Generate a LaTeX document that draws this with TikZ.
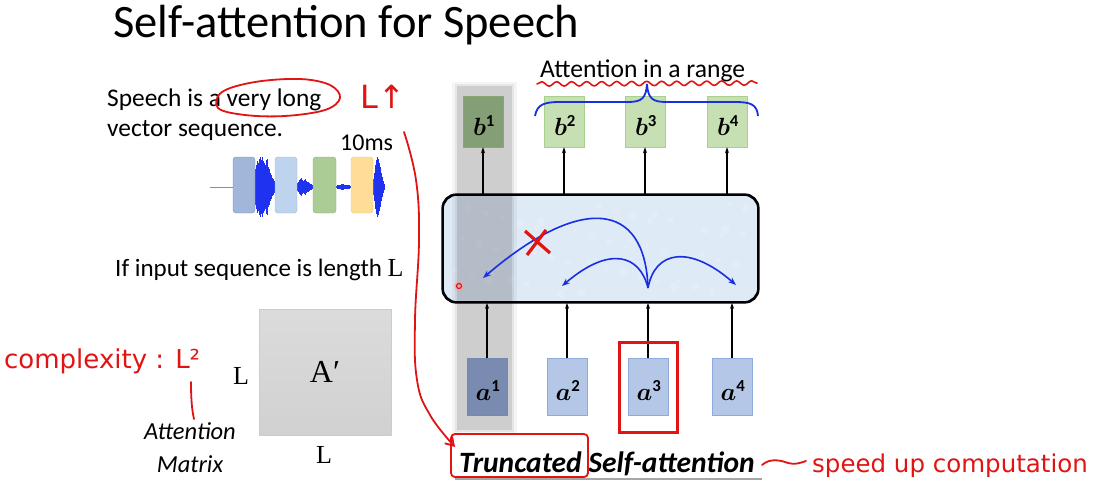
\documentclass[tikz,border=0pt]{standalone}
\usepackage{fontspec}
\usepackage{bm}
\usetikzlibrary{arrows.meta,decorations.pathmorphing,calc}
\setmainfont{Carlito}
\newfontfamily\handfont{DejaVu Sans}
\newfontfamily\seriffont{Liberation Serif}

\definecolor{boxgreen}{RGB}{198,224,180}
\definecolor{boxgreenline}{RGB}{169,209,142}
\definecolor{boxgreendark}{RGB}{165,196,146}
\definecolor{boxblue}{RGB}{180,199,231}
\definecolor{boxblueline}{RGB}{143,170,220}
\definecolor{boxbluedark}{RGB}{150,172,218}
\definecolor{layerfill}{RGB}{222,234,246}
\definecolor{penred}{RGB}{225,20,20}
\definecolor{penblue}{RGB}{25,45,225}
\definecolor{wave}{RGB}{30,50,240}
\definecolor{frameA}{RGB}{160,182,218}
\definecolor{frameB}{RGB}{190,212,238}
\definecolor{frameC}{RGB}{172,204,150}
\definecolor{frameD}{RGB}{254,222,150}

\tikzset{
  txt/.style={inner sep=0pt, anchor=base west},
  outbox/.style={draw=boxgreenline, fill=boxgreen, minimum width=40pt, minimum height=51pt, inner sep=0pt},
  inbox/.style={draw=boxblueline, fill=boxblue, minimum width=40pt, minimum height=57pt, inner sep=0pt},
  framebox/.style={rounded corners=3pt, minimum width=22pt, minimum height=56pt, inner sep=0pt},
  flow/.style={-{Stealth[length=6pt,width=4pt]}, line width=1.3pt},
  attn/.style={penblue, line width=1.6pt, -{Stealth[length=8pt,width=6pt]}},
  ink/.style={penred, line width=1.8pt, line cap=round, line join=round},
  bandstyle/.style={fill=black, draw=none},
}

\begin{document}
\begin{tikzpicture}[x=1pt,y=-1pt]
\useasboundingbox (0,0) rectangle (1099,493);
\fill[white] (0,0) rectangle (1099,493);

% ---------- title ----------
\node[txt] (title) at (113,37) {\fontsize{46.5}{50}\selectfont Self-attention for Speech};

% ---------- left column ----------
\node[txt] (speech1) at (107,106) {\fontsize{25.4}{28}\selectfont Speech is a very long};
\node[txt] (speech2) at (107,136) {\fontsize{25.4}{28}\selectfont vector sequence.};
\node[txt] (tenms) at (340,150) {\fontsize{24}{26}\selectfont 10ms};

% waveform with four frames
\draw[draw=wave!60, line width=0.8pt] (210,187) -- (385,187);
\foreach \x/\a in {254/12,255/18,256/22,257/26,258/24,259/28,260/30,261/27,262/30,263/26,264/24,265/22,266/27,267/28,268/20,269/18,270/14,271/12,272/9,273/8,274/6,275/5,
                   297/4,298/5,299/7,300/8,301/9,302/7,303/6,304/7,305/8,306/6,307/5,308/5,309/4,310/3,311/3,312/2,313/2,
                   336/1,337/2,338/2,339/2,340/2,341/3,342/3,343/3,344/2,345/2,346/2,347/2,348/2,349/2,350/1,
                   373/8,374/14,375/22,376/27,377/30,378/28,379/24,380/20,381/14,382/10,383/6,384/3}{
  \draw[draw=wave, line width=1pt] (\x,187-\a) -- (\x,187+\a);
}
\node[framebox, draw=frameA!80!black, fill=frameA] (fr1) at (244,185) {};
\node[framebox, draw=frameB!85!black, fill=frameB] (fr2) at (286,185) {};
\node[framebox, draw=frameC!85!black, fill=frameC, minimum width=23pt] (fr3) at (324.5,185) {};
\node[framebox, draw=frameD!90!black, fill=frameD] (fr4) at (362,185) {};

\node[txt] (inputlen) at (115,276) {\fontsize{25}{28}\selectfont If input sequence is length {\seriffont\fontsize{26}{28}\selectfont L}};

% attention matrix
\shade[top color=gray!28, bottom color=gray!36] (259,309) rectangle (391,435);
\draw[gray!40, line width=0.6pt] (259,309) rectangle (391,435);
\node (amat) at (325,372) {\seriffont\fontsize{32}{34}\selectfont A′};
\node (lleft) at (241,376) {\seriffont\fontsize{26}{28}\selectfont L};
\node (lbottom) at (324,455) {\seriffont\fontsize{26}{28}\selectfont L};
\node (att) at (190,431) {\fontsize{24.5}{26}\selectfont\itshape Attention};
\node (mtx) at (190,464) {\fontsize{24.5}{26}\selectfont\itshape Matrix};

% ---------- right diagram ----------
\node[draw, line width=1.6pt, rounded corners=14pt, fill=layerfill, minimum width=315pt, minimum height=107pt] (layer) at (600.5,248.5) {};
\foreach \i in {1,...,60}{
  \pgfmathsetmacro{\px}{452+mod(\i*137,298)}
  \pgfmathsetmacro{\py}{203+mod(\i*59,92)}
  \pgfmathsetmacro{\pr}{2+mod(\i,3)}
  \fill[white, opacity=0.18] (\px,\py) circle[radius=\pr];
}
\draw[line width=1.6pt, rounded corners=14pt] (layer.south west) rectangle (layer.north east);

\node[outbox, fill=boxgreendark] (b1) at (483,121.5) {};
\node[outbox] (b2) at (564,121.5) {};
\node[outbox] (b3) at (645,121.5) {};
\node[outbox] (b4) at (727,121.5) {};
\node[inbox, fill=boxbluedark] (a1) at (487,386.5) {};
\node[inbox] (a2) at (567,386.5) {};
\node[inbox] (a3) at (648,386.5) {};
\node[inbox] (a4) at (732,386.5) {};

% shaded band over the first position
\fill[bandstyle, opacity=0.04] (452,82) rectangle (517,435);
\fill[bandstyle, opacity=0.06] (455,84) rectangle (514,432);
\fill[bandstyle, opacity=0.10] (457,86) rectangle (512,430);

\foreach \i in {1,...,4}{
  \node (bl\i) at ($(b\i)+(1,4)$) {\fontsize{24}{26}\selectfont$\bm{b}^{\mathbf{\i}}$};
  \node (al\i) at ($(a\i)+(1,4)$) {\fontsize{24}{26}\selectfont$\bm{a}^{\mathbf{\i}}$};
}

% arrows into and out of the layer
\foreach \i in {1,...,4}{
  \draw[flow] (b\i.south |- layer.north) -- (b\i.south);
  \draw[flow] (a\i.north) -- (a\i.north |- layer.south);
}

% attention links from the third position
\coordinate (src) at (648,288);
\coordinate (t1) at (483,278);
\coordinate (t2) at (562,286);
\coordinate (t4) at (736,285);
\draw[attn] (src) .. controls (645,200) and (580,195) .. (t1);
\draw[attn] (src) .. controls (640,255) and (610,245) .. (t2);
\draw[attn] (src) .. controls (655,250) and (690,245) .. (t4);

% range brace and label
\node[txt] (rangelbl) at (540,77) {\fontsize{25.6}{28}\selectfont Attention in a range};
\coordinate (brl) at (535,116);
\coordinate (brt) at (647,84);
\coordinate (brr) at (758,116);
\draw[penblue, line width=1.8pt] (brl) .. controls (537,104) and (545,102) .. (560,102) -- (628,102)
  .. controls (642,102) and (646,98) .. (brt);
\draw[penblue, line width=1.8pt] (brt) .. controls (648,98) and (652,102) .. (666,102) -- (735,102)
  .. controls (750,102) and (757,104) .. (brr);
\draw[ink, line width=1.6pt, decorate, decoration={snake, segment length=15pt, amplitude=2.2pt}] (537,84) -- (757,83);

% ---------- bottom caption ----------
\node[txt] (trunc) at (459,472) {\fontsize{29.5}{32}\selectfont\bfseries\itshape Truncated Self-attention};
\draw[gray!70, line width=1.4pt] (455,479) -- (762,479);

% ---------- pen annotations ----------
% circle around "very long"
\draw[ink] plot[smooth cycle, tension=0.6] coordinates {(222,92) (255,82) (300,79) (330,85) (340,98) (325,110) (285,116) (245,115) (218,108)};
\node[txt, text=penred] (lup) at (360,108) {\handfont\fontsize{32}{34}\selectfont L↑};
% long stroke down to the caption
\draw[ink, -{Straight Barb[length=8pt,width=10pt]}] plot[smooth, tension=0.7] coordinates {(404,132) (416,180) (419,240) (415,320) (417,380) (430,415) (455,447)};
% box around "Truncated"
\draw[ink, rounded corners=4pt] (451,434) rectangle (588,477);
% box around a3
\draw[penred, line width=3pt] ($(a3.north west)+(-8,-15)$) rectangle ($(a3.south east)+(9,17)$);
% cross on the long-range link
\draw[penred, line width=3.2pt] (525,231) -- (550,253);
\draw[penred, line width=3.2pt] (546,230) -- (527,255);
% pointer dot
\fill[penred!40, opacity=0.6] (459,286) circle[radius=5];
\draw[penred, line width=1.2pt] (459,286) circle[radius=2.5];
% complexity note
\node[txt, text=penred] (cplx) at (4,368) {\handfont\fontsize{26}{28}\selectfont complexity : L²};
\draw[ink] (191,382) .. controls (191,400) and (192,410) .. (194,419);
% speed-up note
\draw[ink] (762,465) .. controls (770,458) and (780,460) .. (788,463) .. controls (795,465) and (800,463) .. (806,461);
\node[txt, text=penred] (speed) at (812,472) {\handfont\fontsize{24.5}{28}\selectfont speed up computation};

\end{tikzpicture}
\end{document}
